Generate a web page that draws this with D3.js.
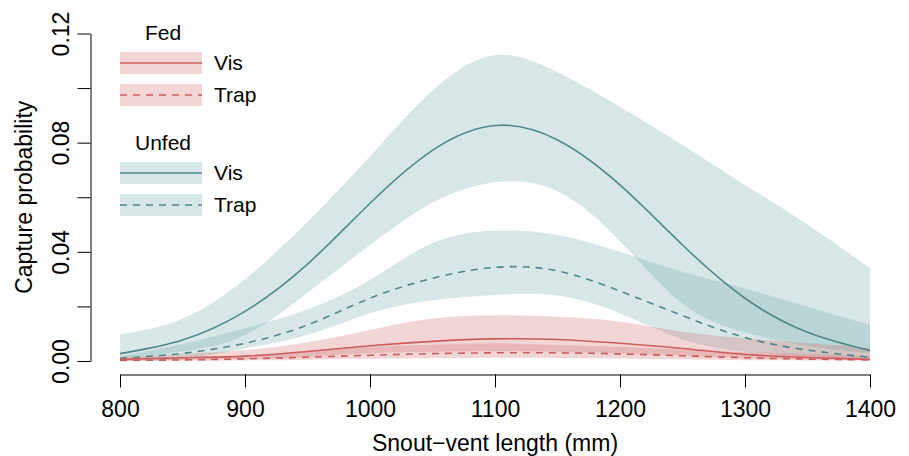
<!DOCTYPE html>
<html>
<head>
<meta charset="utf-8">
<script src="https://cdn.jsdelivr.net/npm/d3@7"></script>
<style>
  body { margin: 0; background: #fff; }
  svg { font-family: "Liberation Sans", Arial, sans-serif; }
</style>
</head>
<body>
<div class="canvas"></div>
<script>
// snout-vent length (mm)
const svl = [800, 850, 900, 950, 1000, 1050, 1100, 1150, 1200, 1250, 1300, 1350, 1400];

// Unfed, visual survey
const unfedVis   = [0.0027, 0.0077, 0.0182, 0.0355, 0.0578, 0.0772, 0.0863, 0.0810, 0.0645, 0.0425, 0.0230, 0.0105, 0.0038];
const unfedVisHi = [0.0098, 0.0155, 0.0300, 0.0510, 0.0750, 0.0990, 0.1121, 0.1058, 0.0932, 0.0791, 0.0645, 0.0500, 0.0340];
const unfedVisLo = [0.0012, 0.0035, 0.0095, 0.0250, 0.0425, 0.0580, 0.0655, 0.0622, 0.0440, 0.0210, 0.0105, 0.0055, 0.0028];
// Unfed, trap
const unfedTrap   = [0.0010, 0.0028, 0.0065, 0.0132, 0.0230, 0.0303, 0.0343, 0.0330, 0.0256, 0.0166, 0.0086, 0.0040, 0.0014];
const unfedTrapHi = [0.0018, 0.0062, 0.0120, 0.0190, 0.0297, 0.0432, 0.0477, 0.0462, 0.0400, 0.0327, 0.0266, 0.0199, 0.0132];
const unfedTrapLo = [0.0002, 0.0008, 0.0046, 0.0095, 0.0175, 0.0223, 0.0242, 0.0240, 0.0175, 0.0080, 0.0035, 0.0018, 0.0008];
// Fed, visual survey
const fedVis   = [0.0006, 0.0012, 0.0018, 0.0035, 0.0056, 0.0072, 0.0081, 0.0079, 0.0065, 0.0046, 0.0024, 0.0013, 0.0006];
const fedVisHi = [0.0015, 0.0026, 0.0040, 0.0069, 0.0114, 0.0156, 0.0168, 0.0162, 0.0144, 0.0107, 0.0083, 0.0065, 0.0048];
const fedVisLo = [0.0002, 0.0005, 0.0008, 0.0016, 0.0028, 0.0034, 0.0036, 0.0034, 0.0028, 0.0020, 0.0012, 0.0006, 0.0003];
// Fed, trap
const fedTrap   = [0.0002, 0.0004, 0.0008, 0.0014, 0.0021, 0.0027, 0.0030, 0.0030, 0.0026, 0.0019, 0.0012, 0.0007, 0.0004];
const fedTrapHi = [0.0006, 0.0010, 0.0018, 0.0034, 0.0052, 0.0060, 0.0065, 0.0059, 0.0052, 0.0042, 0.0032, 0.0025, 0.0018];
const fedTrapLo = [0.0000, 0.0001, 0.0002, 0.0005, 0.0008, 0.0010, 0.0012, 0.0011, 0.0009, 0.0006, 0.0003, 0.0002, 0.0001];

const xTicks = [800, 900, 1000, 1100, 1200, 1300, 1400];
const yTicks = [0, 0.02, 0.04, 0.06, 0.08, 0.10, 0.12];
const yLabelled = [0, 0.04, 0.08, 0.12];

//Canvas parameters
const
    width = 909,
    height = 456,
    plotL = 120, plotR = 870,
    plotT = 33.5, plotB = 361,
    xAxisY = 374.5, yAxisX = 90.5;

const
    red = '#cd5c5c', redFill = 'rgba(205,92,92,0.25)',
    teal = '#53868b', tealFill = 'rgba(95,158,160,0.25)';

const svg = d3.select('.canvas')
    .append('svg')
    .attr('width', width)
    .attr('height', height);

const xScale = d3.scaleLinear().domain([800, 1400]).range([plotL, plotR]);
const yScale = d3.scaleLinear().domain([0, 0.12]).range([plotB, plotT]);

const series = [
    { mid: unfedVis, lo: unfedVisLo, hi: unfedVisHi, color: teal, fill: tealFill, dash: null },
    { mid: unfedTrap, lo: unfedTrapLo, hi: unfedTrapHi, color: teal, fill: tealFill, dash: '7,6' },
    { mid: fedVis, lo: fedVisLo, hi: fedVisHi, color: red, fill: redFill, dash: null },
    { mid: fedTrap, lo: fedTrapLo, hi: fedTrapHi, color: red, fill: redFill, dash: '7,6' }
];

const area = d3.area()
    .x(d => xScale(d.x))
    .y0(d => yScale(d.lo))
    .y1(d => yScale(d.hi))
    .curve(d3.curveNatural);

const line = d3.line()
    .x(d => xScale(d.x))
    .y(d => yScale(d.y))
    .curve(d3.curveNatural);

//Bands
series.forEach(s => {
    svg.append('path')
        .datum(svl.map((x, i) => ({ x: x, lo: s.lo[i], hi: s.hi[i] })))
        .attr('fill', s.fill)
        .attr('d', area);
});

//Lines
series.forEach(s => {
    svg.append('path')
        .datum(svl.map((x, i) => ({ x: x, y: s.mid[i] })))
        .attr('fill', 'none')
        .attr('stroke', s.color)
        .attr('stroke-width', 1.6)
        .attr('stroke-dasharray', s.dash)
        .attr('d', line);
});

//X-Axis
svg.append('g')
    .attr('transform', `translate(0, ${xAxisY})`)
    .call(d3.axisBottom(xScale).tickValues(xTicks).tickSize(13).tickSizeOuter(0).tickPadding(13).tickFormat(d3.format('d')))
    .call(g => g.selectAll('text').attr('font-size', 23).attr('fill', '#000'))
    .call(g => g.selectAll('line, path').attr('stroke', '#000'))
    .attr('font-family', null);

//Y-Axis
svg.append('g')
    .attr('transform', `translate(${yAxisX}, 0)`)
    .call(d3.axisLeft(yScale).tickValues(yTicks).tickSize(13).tickSizeOuter(0)
        .tickFormat(d => yLabelled.some(v => Math.abs(v - d) < 1e-9) ? d3.format('.2f')(d) : ''))
    .call(g => g.selectAll('text')
        .attr('font-size', 23)
        .attr('fill', '#000')
        .attr('x', 0)
        .attr('y', -22)
        .attr('dy', 0)
        .attr('text-anchor', 'middle')
        .attr('transform', 'rotate(-90)'))
    .call(g => g.selectAll('line, path').attr('stroke', '#000'))
    .attr('font-family', null);

//Axis titles
svg.append('text')
    .attr('x', (plotL + plotR) / 2)
    .attr('y', 451)
    .attr('text-anchor', 'middle')
    .attr('font-size', 23)
    .text('Snout\u2212vent length (mm)');

svg.append('text')
    .attr('transform', `translate(32, ${(plotT + plotB) / 2}) rotate(-90)`)
    .attr('text-anchor', 'middle')
    .attr('font-size', 23)
    .text('Capture probability');

//Legend
const legendGroups = [
    { title: 'Fed', titleY: 33, color: red, fill: redFill, rows: [63, 95] },
    { title: 'Unfed', titleY: 143, color: teal, fill: tealFill, rows: [173, 205] }
];
const rowLabels = ['Vis', 'Trap'];
const rowDash = [null, '7,6'];

legendGroups.forEach(gr => {
    svg.append('text')
        .attr('x', 163)
        .attr('y', gr.titleY)
        .attr('dy', '0.35em')
        .attr('text-anchor', 'middle')
        .attr('font-size', 21)
        .text(gr.title);
    gr.rows.forEach((y, i) => {
        svg.append('rect')
            .attr('x', 120).attr('y', y - 11)
            .attr('width', 82).attr('height', 22)
            .attr('fill', gr.fill);
        svg.append('line')
            .attr('x1', 120).attr('x2', 202)
            .attr('y1', y).attr('y2', y)
            .attr('stroke', gr.color)
            .attr('stroke-width', 1.6)
            .attr('stroke-dasharray', rowDash[i]);
        svg.append('text')
            .attr('x', 214)
            .attr('y', y)
            .attr('dy', '0.35em')
            .attr('font-size', 21)
            .text(rowLabels[i]);
    });
});
</script>
</body>
</html>
